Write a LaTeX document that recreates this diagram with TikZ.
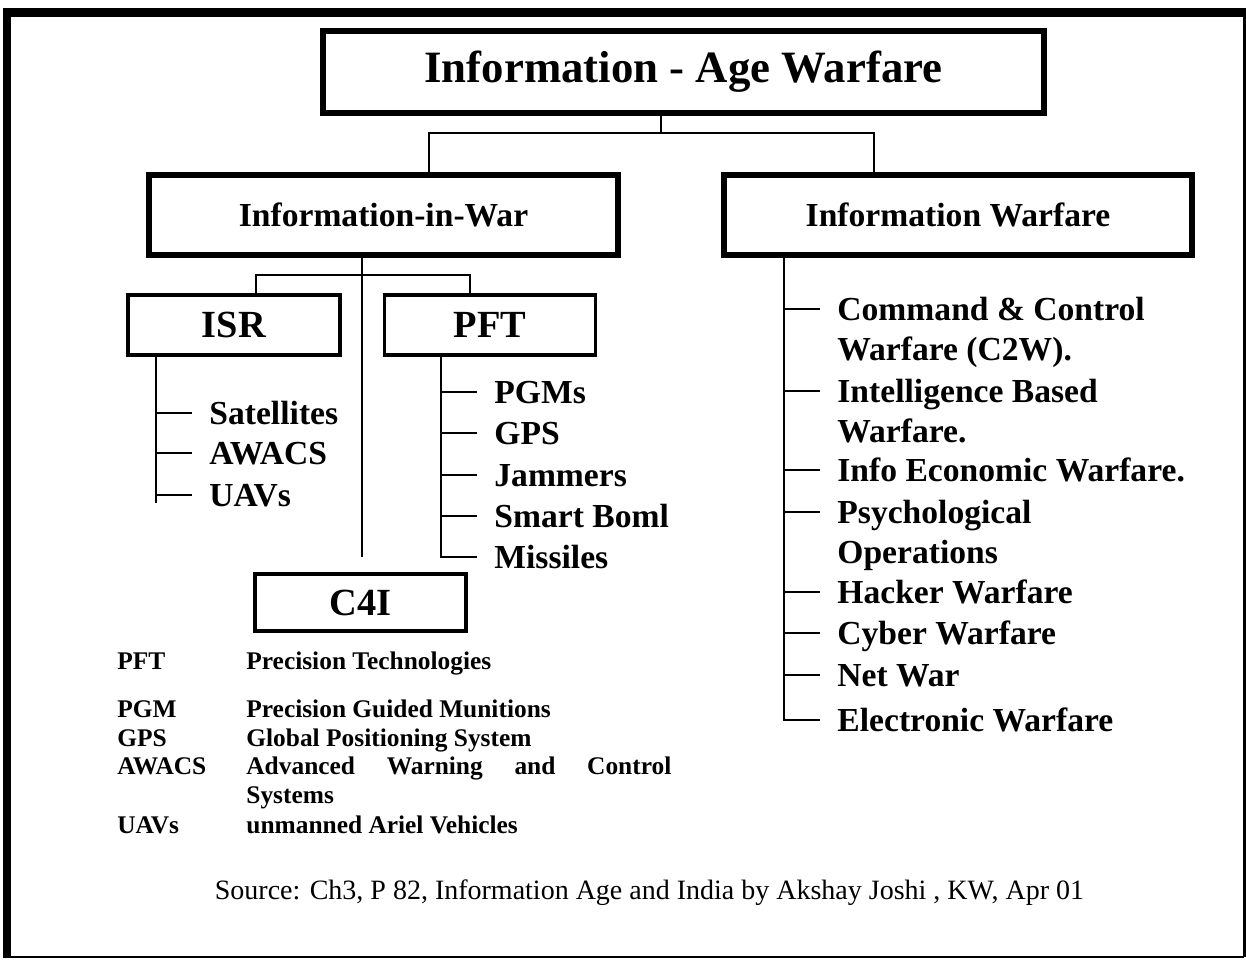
\documentclass[tikz,border=0pt]{standalone}
\usepackage{fontspec}
\setmainfont{Liberation Serif}
\usetikzlibrary{positioning}

\begin{document}
\begin{tikzpicture}[x=0.5pt,y=-0.5pt,line cap=butt,line join=miter,
	bigbox/.style={draw,line width=3pt,inner sep=0pt,minimum height=40pt,font=\bfseries\fontsize{16.8}{20}\selectfont},
	smallbox/.style={draw,line width=1.8pt,inner sep=0pt,minimum width=105.5pt,minimum height=30pt,font=\bfseries\fontsize{19.2}{22}\selectfont},
	item/.style={anchor=west,inner xsep=8.5pt,inner ysep=0pt,text height=11pt,text depth=0pt,font=\bfseries\fontsize{16.8}{20}\selectfont},
	wire/.style={line width=1.1pt},
	legend/.style={anchor=base west,inner sep=0pt,font=\bfseries\fontsize{12.7}{15}\selectfont}]
	\useasboundingbox (0,0) rectangle (1246,960);
	% frame
	\draw [line width=0.8pt] (7,957) -- (1244,957);
	\draw [line width=1.5pt] (1244,12) -- (1244,957);
	\draw [line width=4pt] (7,8) -- (7,958);
	\draw [line width=4.5pt] (3,12) -- (1246,12);

	\node [draw,line width=3pt,inner sep=0pt,minimum width=360.5pt,minimum height=41pt,font=\bfseries\fontsize{22.4}{26}\selectfont] (title) at (683.5,72) {Information - Age Warfare};
	\node [bigbox,minimum width=234.5pt] (iiw) at (383.5,215) {Information-in-War};
	\node [bigbox,minimum width=234pt] (iw) at (958,215) {Information Warfare};

	% top connector
	\coordinate (tj) at (661,133);
	\coordinate (lj) at (429,133);
	\coordinate (rj) at (874,133);
	\draw [wire] (tj |- title.south) -- (tj);
	\draw [wire] (lj |- iiw.north) -- (lj) -- (rj) -- (rj |- iw.north);

	% Information-in-War
	\node [smallbox,minimum width=106pt] (isr) at (234,325) {ISR};
	\node [smallbox] (pft) at (490,325) {PFT};
	\node [smallbox,minimum height=28.5pt] (c4i) at (360.5,602.5) {C4I};
	\coordinate (cj) at (362,557);
	\coordinate (bl) at (256,275);
	\coordinate (br) at (470,275);
	\draw [wire] (iiw.south -| cj) -- (cj);
	\draw [wire] (bl |- isr.north) -- (bl) -- (br) -- (br |- pft.north);

	% ISR
	\coordinate (isrbus) at (156,503);
	\node [item] (sat) at (192,413) {Satellites};
	\node [item] (awacs) at (192,453) {AWACS};
	\node [item] (uav) at (192,495) {UAVs};
	\draw [wire] (isr.south -| isrbus) -- (isrbus);
	\draw [wire] (isrbus |- sat.west) -- (sat.west);
	\draw [wire] (isrbus |- awacs.west) -- (awacs.west);
	\draw [wire] (isrbus |- uav.west) -- (uav.west);

	% PFT
	\coordinate (pftbus) at (441,558);
	\node [item] (pgm) at (477,392) {PGMs};
	\node [item] (gps) at (477,433) {GPS};
	\node [item] (jam) at (477,475) {Jammers};
	\node [item] (bomb) at (477,516) {Smart Boml};
	\node [item] (mis) at (477,557) {Missiles};
	\draw [wire] (pft.south -| pftbus) -- (pftbus);
	\draw [wire] (pftbus |- pgm.west) -- (pgm.west);
	\draw [wire] (pftbus |- gps.west) -- (gps.west);
	\draw [wire] (pftbus |- jam.west) -- (jam.west);
	\draw [wire] (pftbus |- bomb.west) -- (bomb.west);
	\draw [wire] (pftbus |- mis.west) -- (mis.west);

	% Information Warfare
	\coordinate (iwbus) at (784,721);
	\node [item] (ccw) at (820,309) {Command \& Control};
	\node [item] (ccw2) at (820,349) {Warfare (C2W).};
	\node [item] (ibw) at (820,391) {Intelligence Based};
	\node [item] (ibw2) at (820,431) {Warfare.};
	\node [item] (iew) at (820,470) {Info Economic Warfare.};
	\node [item] (psy) at (820,512) {Psychological};
	\node [item] (psy2) at (820,552) {Operations};
	\node [item] (hack) at (820,592) {Hacker Warfare};
	\node [item] (cyb) at (820,633) {Cyber Warfare};
	\node [item] (net) at (820,675) {Net War};
	\node [item] (ew) at (820,720) {Electronic Warfare};
	\draw [wire] (iw.south -| iwbus) -- (iwbus);
	\draw [wire] (iwbus |- ccw.west) -- (ccw.west);
	\draw [wire] (iwbus |- ibw.west) -- (ibw.west);
	\draw [wire] (iwbus |- iew.west) -- (iew.west);
	\draw [wire] (iwbus |- psy.west) -- (psy.west);
	\draw [wire] (iwbus |- hack.west) -- (hack.west);
	\draw [wire] (iwbus |- cyb.west) -- (cyb.west);
	\draw [wire] (iwbus |- net.west) -- (net.west);
	\draw [wire] (iwbus |- ew.west) -- (ew.west);

	% abbreviations
	\node [legend] (k1) at (117,669) {PFT};
	\node [legend] (d1) at (246,669) {Precision Technologies};
	\node [legend] (k2) at (117,717) {PGM};
	\node [legend] (d2) at (246,717) {Precision Guided Munitions};
	\node [legend] (k3) at (117,746) {GPS};
	\node [legend] (d3) at (246,746) {Global Positioning System};
	\node [legend] (k4) at (117,774) {AWACS};
	\node [legend,text width=212.5pt,align=left] (d4) at (246,774) {Advanced\hfill Warning\hfill and\hfill Control};
	\node [legend] (d4b) at (246,803) {Systems};
	\node [legend] (k5) at (117,833) {UAVs};
	\node [legend] (d5) at (246,833) {unmanned Ariel Vehicles};

	\node [anchor=base,inner sep=0pt,font=\fontsize{14}{16}\selectfont] (src) at (649.5,899) {Source: Ch3, P 82, Information Age and India by Akshay Joshi , KW, Apr 01};
\end{tikzpicture}
\end{document}
